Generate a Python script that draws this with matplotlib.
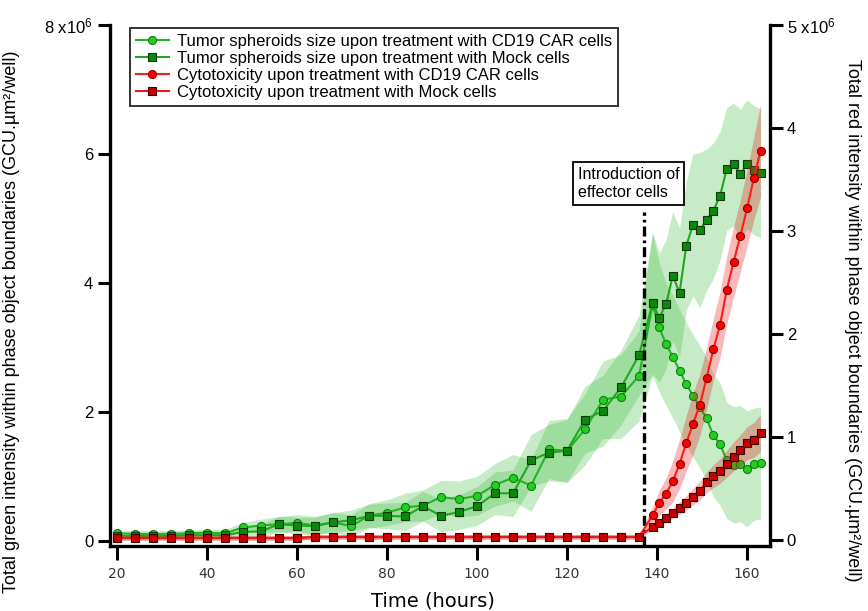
import matplotlib
matplotlib.use("Agg")
import matplotlib.pyplot as plt
import numpy as np

plt.rcParams['font.family'] = ['Liberation Sans', 'DejaVu Sans']
plt.rcParams['mathtext.default'] = 'regular'

# time points (hours)
hours = [20, 24, 28, 32, 36, 40, 44, 48, 52, 56, 60, 64, 68, 72, 76, 80, 84, 88, 92, 96,
         100, 104, 108, 112, 116, 120, 124, 128, 132, 136,
         139, 140.5, 142, 143.5, 145, 146.5, 148, 149.5, 151, 152.5, 154, 155.5, 157,
         158.5, 160, 161.5, 163]

# green intensity (x10^6), left axis
green_car = [0.12, 0.11, 0.11, 0.11, 0.12, 0.13, 0.12, 0.21, 0.24, 0.26, 0.28, 0.24, 0.29, 0.23,
             0.39, 0.44, 0.52, 0.55, 0.68, 0.65, 0.70, 0.87, 0.98, 0.86, 1.42, 1.40, 1.73, 2.19,
             2.24, 2.56,
             3.66, 3.31, 3.05, 2.86, 2.64, 2.43, 2.25, 2.08, 1.90, 1.64, 1.50, 1.25, 1.18, 1.20,
             1.12, 1.19, 1.21]
green_car_sd = [0.05, 0.05, 0.05, 0.05, 0.05, 0.05, 0.06, 0.08, 0.10, 0.12, 0.13, 0.14, 0.15, 0.17,
                0.19, 0.20, 0.22, 0.24, 0.26, 0.28, 0.30, 0.33, 0.36, 0.40, 0.45, 0.50, 0.55, 0.60,
                0.65, 0.70,
                1.10, 1.00, 0.95, 0.95, 0.95, 0.95, 0.95, 0.95, 0.95, 0.95, 0.95, 0.90, 0.90, 0.90,
                0.90, 0.87, 0.87]
green_mock = [0.08, 0.08, 0.08, 0.08, 0.09, 0.09, 0.09, 0.14, 0.15, 0.26, 0.24, 0.23, 0.29, 0.32,
              0.39, 0.39, 0.38, 0.54, 0.39, 0.45, 0.54, 0.74, 0.74, 1.25, 1.37, 1.40, 1.88, 2.02,
              2.38, 2.88,
              3.69, 3.46, 3.67, 4.11, 3.85, 4.58, 4.90, 4.82, 4.98, 5.12, 5.35, 5.77, 5.84, 5.69,
              5.84, 5.75, 5.70]
green_mock_sd = [0.05, 0.05, 0.05, 0.05, 0.05, 0.05, 0.06, 0.09, 0.11, 0.12, 0.13, 0.14, 0.15, 0.16,
                 0.18, 0.20, 0.22, 0.23, 0.25, 0.27, 0.30, 0.33, 0.36, 0.40, 0.44, 0.48, 0.52, 0.55,
                 0.58, 0.62,
                 1.10, 1.00, 1.00, 1.00, 1.00, 1.00, 1.10, 1.20, 1.10, 1.05, 1.00, 0.95, 0.95, 1.00,
                 1.00, 1.00, 1.00]

# red intensity (x10^6), right axis
red_car = [0.02, 0.02, 0.02, 0.02, 0.02, 0.02, 0.02, 0.02, 0.02, 0.02, 0.02, 0.03, 0.03, 0.03,
           0.03, 0.03, 0.03, 0.03, 0.03, 0.03, 0.03, 0.03, 0.03, 0.03, 0.03, 0.03, 0.03, 0.03,
           0.03, 0.03,
           0.24, 0.36, 0.45, 0.57, 0.74, 0.94, 1.13, 1.31, 1.57, 1.85, 2.09, 2.43, 2.70, 2.95,
           3.22, 3.51, 3.78]
red_car_sd = [0.02] * 30 + [0.08, 0.12, 0.15, 0.20, 0.24, 0.27, 0.30, 0.30, 0.30, 0.30, 0.32,
                            0.33, 0.34, 0.35, 0.37, 0.40, 0.45]
red_mock = [0.02, 0.02, 0.02, 0.02, 0.02, 0.02, 0.02, 0.02, 0.02, 0.02, 0.02, 0.03, 0.03, 0.03,
            0.03, 0.03, 0.03, 0.03, 0.03, 0.03, 0.03, 0.03, 0.03, 0.03, 0.03, 0.03, 0.03, 0.03,
            0.03, 0.03,
            0.13, 0.17, 0.21, 0.26, 0.31, 0.36, 0.42, 0.48, 0.56, 0.62, 0.67, 0.74, 0.81, 0.87,
            0.94, 0.97, 1.04]
red_mock_sd = [0.02] * 30 + [0.02, 0.03, 0.04, 0.05, 0.06, 0.07, 0.08, 0.09, 0.10, 0.11, 0.12,
                             0.13, 0.14, 0.15, 0.16, 0.17, 0.18]

labels = ["Tumor spheroids size upon treatment with CD19 CAR cells",
          "Tumor spheroids size upon treatment with Mock cells",
          "Cytotoxicity upon treatment with CD19 CAR cells",
          "Cytotoxicity upon treatment with Mock cells"]

t = np.array(hours)
M = 1e6

fig = plt.figure(figsize=(8.68, 6.11), dpi=100)
ax = fig.add_axes([0.1267, 0.1064, 0.7604, 0.8527])
ax2 = ax.twinx()

# green bands + lines (left axis)
g_band = (0.2, 0.73, 0.2)
for y, sd in [(green_car, green_car_sd), (green_mock, green_mock_sd)]:
    y = np.array(y) * M
    sd = np.array(sd) * M
    ax.fill_between(t, y - sd, y + sd, color=g_band, alpha=0.28, lw=0, zorder=1)

h1, = ax.plot(t, np.array(green_car) * M, '-o', color='#22b422', lw=1.5, ms=5.8,
              mfc='#1ed21e', mec='#157a15', mew=0.8, zorder=3)
h2, = ax.plot(t, np.array(green_mock) * M, '-s', color='#22a522', lw=1.5, ms=5.8,
              mfc='#0a8a0a', mec='#123812', mew=0.8, zorder=3)

# red bands + lines (right axis)
for y, sd in [(red_car, red_car_sd), (red_mock, red_mock_sd)]:
    y = np.array(y) * M
    sd = np.array(sd) * M
    ax2.fill_between(t, y - sd, y + sd, color=(0.9, 0.1, 0.1), alpha=0.3, lw=0, zorder=1)

h3, = ax2.plot(t, np.array(red_car) * M, '-o', color='#ff1a1a', lw=1.5, ms=5.8,
               mfc='#ff0000', mec='#8a0000', mew=0.8, zorder=3)
h4, = ax2.plot(t, np.array(red_mock) * M, '-s', color='#f01818', lw=1.5, ms=5.8,
               mfc='#c80000', mec='#3a0000', mew=0.8, zorder=3)

# effector cells introduction
ax.plot([137, 137], [-0.08 * M, 5.1 * M], color='black', lw=2.4,
        linestyle=(0, (3, 1.2, 0.8, 1.2)), zorder=4)
ax.text(0.709, 0.727, "Introduction of\neffector cells", transform=ax.transAxes,
        fontsize=11.5, ha='left', va='top', linespacing=1.25, zorder=6,
        bbox=dict(boxstyle='square,pad=0.3', fc='white', ec='black', lw=1.3))

# axes
ax.set_xlim(18.44, 165.1)
ax.set_ylim(-0.0775 * M, 8 * M)
ax2.set_ylim(-0.058 * M, 5 * M)

ax.set_xticks([20, 40, 60, 80, 100, 120, 140, 160])
ax.set_xticklabels(['20', '40', '60', '80', '100', '120', '140', '160'],
                   family='DejaVu Sans', fontsize=10, color='#333333')
ax.set_yticks([0, 2 * M, 4 * M, 6 * M, 8 * M])
ax.set_yticklabels(['0', '2', '4', '6', '8 x10$^{6}$'], fontsize=12)
ax2.set_yticks([0, 1 * M, 2 * M, 3 * M, 4 * M, 5 * M])
ax2.set_yticklabels(['0', '1', '2', '3', '4', '5 x10$^{6}$'], fontsize=12)

for s in ['top', 'right']:
    ax.spines[s].set_visible(False)
for s in ['top', 'left', 'bottom']:
    ax2.spines[s].set_visible(False)
for sp in [ax.spines['left'], ax.spines['bottom'], ax2.spines['right']]:
    sp.set_linewidth(2.4)

ax.tick_params(axis='x', direction='out', length=10, width=2.2, pad=5)
ax.tick_params(axis='y', direction='out', length=9, width=2.2, pad=3)
ax2.tick_params(axis='y', direction='out', length=9, width=2.2, pad=3)

ax.set_xlabel("Time (hours)", family='DejaVu Sans', fontsize=14)
ax.xaxis.set_label_coords(0.49, -0.088)
ax.set_ylabel("Total green intensity within phase object boundaries (GCU.\u00b5m\u00b2/well)",
              fontsize=13)
ax.yaxis.set_label_coords(-0.137, 0.43)
ax2.set_ylabel("Total red intensity within phase object boundaries (GCU.\u00b5m\u00b2/well)",
               fontsize=13, rotation=270, va='center')
ax2.yaxis.set_label_coords(1.125, 0.434)

leg = ax2.legend([h1, h2, h3, h4], labels, loc='upper left', bbox_to_anchor=(0.0303, 0.994),
                 borderaxespad=0, fontsize=12, frameon=True, fancybox=False,
                 handlelength=2.0, handletextpad=0.5, labelspacing=0.12, borderpad=0.35)
leg.get_frame().set_edgecolor('black')
leg.get_frame().set_linewidth(1.4)
leg.set_zorder(10)

fig.savefig('out.png', dpi=100)
